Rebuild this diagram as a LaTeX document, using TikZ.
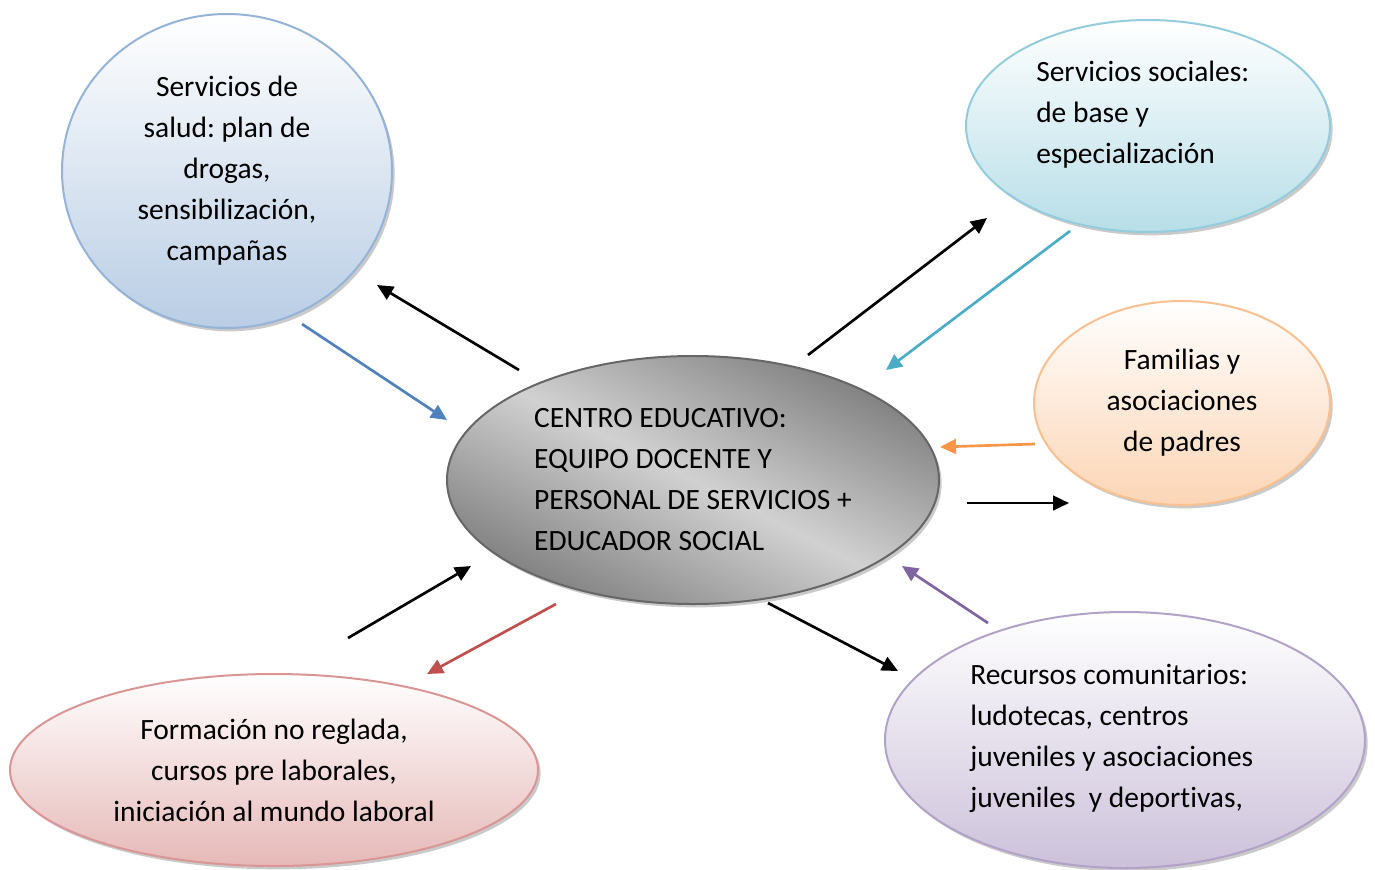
\documentclass[tikz,border=0pt]{standalone}
\usepackage{fontspec}
\setmainfont{Carlito}[Ligatures=NoCommon]
\frenchspacing
\usetikzlibrary{shapes.geometric,shadows,arrows.meta}
\definecolor{saludFill}{HTML}{B9CDE5}
\definecolor{saludLine}{HTML}{95B3D7}
\definecolor{socFill}{HTML}{B7DEE8}
\definecolor{socLine}{HTML}{93CDDD}
\definecolor{famFill}{HTML}{FCD5B5}
\definecolor{famLine}{HTML}{FAC090}
\definecolor{forFill}{HTML}{E6B9B8}
\definecolor{forLine}{HTML}{D99694}
\definecolor{recFill}{HTML}{CCC1DA}
\definecolor{recLine}{HTML}{B3A2C7}
\definecolor{arrBlue}{HTML}{4F81BD}
\definecolor{arrCyan}{HTML}{4BACC6}
\definecolor{arrOrange}{HTML}{F79646}
\definecolor{arrPurple}{HTML}{8064A2}
\definecolor{arrRed}{HTML}{C0504D}
\newcommand{\bubbleFont}{\fontsize{22.1pt}{30.75pt}\selectfont}

\begin{document}
\begin{tikzpicture}[x=0.75pt, y=-0.75pt]
  \tikzset{
    bubble/.style={ellipse, draw, line width=1.5pt, inner sep=0pt, align=center,
      font=\bubbleFont,
      drop shadow={shadow xshift=2pt, shadow yshift=-2.5pt, opacity=0.35, fill=black!60}},
    txt/.style={font=\bubbleFont, align=left, inner sep=0pt, anchor=west},
    flow/.style={line width=2pt, -{Triangle[length=12pt,width=11pt]}}
  }
  \useasboundingbox (0,0) rectangle (1375,869);

  \node[bubble, draw=saludLine, top color=white, bottom color=saludFill,
    minimum width=247.5pt, minimum height=235.5pt] (salud) at (227,171)
    {Servicios de\\salud: plan de\\drogas,\\sensibilización,\\campañas};
  \node[bubble, draw=socLine, top color=white, bottom color=socFill,
    minimum width=273pt, minimum height=159pt] (sociales) at (1148,126) {};
  \node[txt] (sociales-txt) at (1036,115)
    {Servicios sociales:\\de base y\\especialización};
  \node[bubble, draw=famLine, top color=white, bottom color=famFill,
    minimum width=222pt, minimum height=153pt] (familias) at (1182,403)
    {Familias y\\asociaciones\\de padres};
  \node[bubble, draw=black!60, top color=black!50, bottom color=black!50,
    middle color=black!18, shading angle=-27,
    minimum width=369pt, minimum height=186pt, align=left] (centro) at (693,480)
    {CENTRO EDUCATIVO:\\EQUIPO DOCENTE Y\\PERSONAL DE SERVICIOS +\\EDUCADOR SOCIAL};
  \node[bubble, draw=forLine, top color=white, bottom color=forFill,
    minimum width=396pt, minimum height=144pt] (formacion) at (274,770)
    {Formación no reglada,\\cursos pre laborales,\\iniciación al mundo laboral};
  \node[bubble, draw=recLine, top color=white, bottom color=recFill,
    minimum width=360pt, minimum height=192pt] (recursos) at (1125,740) {};
  \node[txt] (recursos-txt) at (970,738)
    {Recursos comunitarios:\\ludotecas, centros\\juveniles y asociaciones\\juveniles\ \ y deportivas,};

  % arrow ends
  \coordinate (SAL-1-1) at (519,370); \coordinate (SAL-1-2) at (377,285);
  \coordinate (SAL-2-1) at (302,324); \coordinate (SAL-2-2) at (447,420);
  \coordinate (SOC-1-1) at (808,355); \coordinate (SOC-1-2) at (987,218);
  \coordinate (SOC-2-1) at (1070,231); \coordinate (SOC-2-2) at (886,370);
  \coordinate (FAM-1-1) at (967,503); \coordinate (FAM-1-2) at (1069,503);
  \coordinate (FAM-2-1) at (1035,444); \coordinate (FAM-2-2) at (940,447);
  \coordinate (REC-1-1) at (768,603); \coordinate (REC-1-2) at (898,671);
  \coordinate (REC-2-1) at (988,623); \coordinate (REC-2-2) at (902,566);
  \coordinate (FOR-1-1) at (348,638); \coordinate (FOR-1-2) at (471,566);
  \coordinate (FOR-2-1) at (556,604); \coordinate (FOR-2-2) at (427,674);

  \draw[flow] (SAL-1-1) -- (SAL-1-2);
  \draw[flow, arrBlue] (SAL-2-1) -- (SAL-2-2);
  \draw[flow] (SOC-1-1) -- (SOC-1-2);
  \draw[flow, arrCyan] (SOC-2-1) -- (SOC-2-2);
  \draw[flow] (FAM-1-1) -- (FAM-1-2);
  \draw[flow, arrOrange] (FAM-2-1) -- (FAM-2-2);
  \draw[flow] (REC-1-1) -- (REC-1-2);
  \draw[flow, arrPurple] (REC-2-1) -- (REC-2-2);
  \draw[flow] (FOR-1-1) -- (FOR-1-2);
  \draw[flow, arrRed] (FOR-2-1) -- (FOR-2-2);
\end{tikzpicture}
\end{document}
